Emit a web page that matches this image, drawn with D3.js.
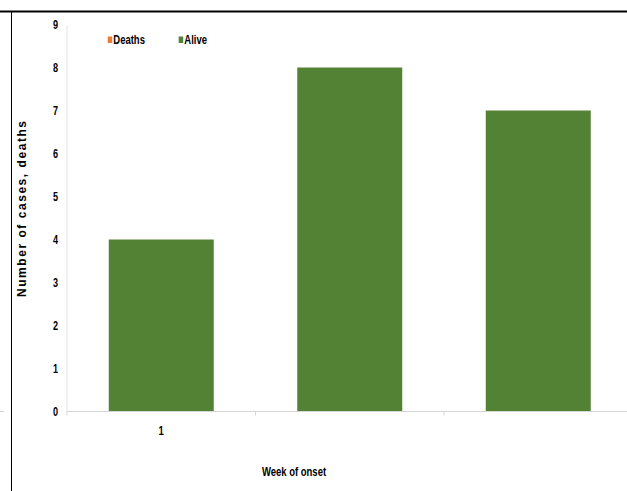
<!DOCTYPE html>
<html>
<head>
<meta charset="utf-8">
<script src="https://cdn.jsdelivr.net/npm/d3@7"></script>
<style>
  html, body { margin: 0; padding: 0; background: #fff; }
  svg { display: block; }
  .narrow { font-family: "Liberation Sans", Arial, sans-serif; font-weight: bold; fill: #000; }
</style>
</head>
<body>
<svg id="chart" width="627" height="491"></svg>
<script>
// Cases by week of onset, split into deaths and survivors
const categories = ["w1", "w2", "w3"];
const tickLabels = ["1", "", ""];
const deaths = [0, 0, 0];
const alive = [4, 8, 7];
const yTicks = [0, 1, 2, 3, 4, 5, 6, 7, 8, 9];
const seriesNames = ["Deaths", "Alive"];
const seriesColors = ["#ED7D31", "#548235"];

const svg = d3.select("#chart");
const W = 627, H = 491;
const plot = { left: 67, right: 632.5, top: 24.5, bottom: 411.5 };
const SQUEEZE = 0.73; // condensed look for labels

// Condensed bold label, squeezed horizontally around its anchor point
function narrowText(parent, x, y, anchor, size, text) {
  const g = parent.append("g").attr("transform", `translate(${x},${y}) scale(${SQUEEZE},1)`);
  g.append("text").attr("class", "narrow")
    .attr("text-anchor", anchor).attr("font-size", size).text(text);
  return g;
}

// Frame lines
svg.append("line").attr("x1", 0).attr("x2", W).attr("y1", 11.5).attr("y2", 11.5)
  .attr("stroke", "#000").attr("stroke-width", 1.8);
svg.append("line").attr("x1", 11.5).attr("x2", 11.5).attr("y1", 11).attr("y2", H)
  .attr("stroke", "#000").attr("stroke-width", 1);
svg.append("line").attr("x1", 0).attr("x2", 4).attr("y1", 411.5).attr("y2", 411.5)
  .attr("stroke", "#d0d0d0").attr("stroke-width", 1);

const x = d3.scaleBand().domain(categories).range([plot.left, plot.right])
  .paddingInner(0.443).paddingOuter(0.2215);
const xOuter = d3.scaleBand().domain(categories).range([plot.left, plot.right]);
const y = d3.scaleLinear().domain([0, 9]).range([plot.bottom, plot.top]);

// Stacked bars: deaths at the bottom, alive on top
const stackData = categories.map((c, i) => ({ cat: c, Deaths: deaths[i], Alive: alive[i] }));
const stacked = d3.stack().keys(seriesNames)(stackData);
svg.append("g").selectAll("g").data(stacked).join("g")
  .attr("fill", (d, i) => seriesColors[i])
  .selectAll("rect").data(d => d).join("rect")
  .attr("x", d => x(d.data.cat))
  .attr("width", x.bandwidth())
  .attr("y", d => y(d[1]))
  .attr("height", d => y(d[0]) - y(d[1]));

// Y axis
svg.append("line").attr("x1", plot.left).attr("x2", plot.left).attr("y1", plot.top + 1).attr("y2", plot.bottom)
  .attr("stroke", "#e2e2e2").attr("stroke-width", 1);
const yLab = svg.append("g");
yTicks.forEach(t => narrowText(yLab, 58, y(t) + 4.5, "end", 12.5, String(t)));

// X axis
svg.append("line").attr("x1", plot.left).attr("x2", W).attr("y1", plot.bottom).attr("y2", plot.bottom)
  .attr("stroke", "#d6d6d6").attr("stroke-width", 1.2);
svg.append("g").selectAll("line").data(categories).join("line")
  .attr("x1", d => xOuter(d)).attr("x2", d => xOuter(d))
  .attr("y1", plot.bottom).attr("y2", plot.bottom + 4)
  .attr("stroke", "#d6d6d6");
const xLab = svg.append("g");
categories.forEach((c, i) => narrowText(xLab, x(c) + x.bandwidth() / 2, 435, "middle", 13, tickLabels[i]));

// Axis titles
narrowText(svg, 294, 476, "middle", 13, "Week of onset");
svg.append("text")
  .attr("transform", "translate(26,209) rotate(-90)")
  .attr("text-anchor", "middle")
  .attr("font-family", "Liberation Sans, Arial, sans-serif").attr("font-weight", "bold")
  .attr("font-size", 12).attr("fill", "#000")
  .attr("textLength", 176).attr("lengthAdjust", "spacing")
  .text("Number of cases, deaths");

// Legend
const legendX = [107.7, 178.7];
seriesNames.forEach((name, i) => {
  const g = svg.append("g").attr("transform", `translate(${legendX[i]},0)`);
  g.append("rect").attr("x", 0).attr("y", 36.5).attr("width", 4.5).attr("height", 6.5)
    .attr("fill", seriesColors[i]);
  narrowText(g, 5.6, 44, "start", 13, name);
});
</script>
</body>
</html>
